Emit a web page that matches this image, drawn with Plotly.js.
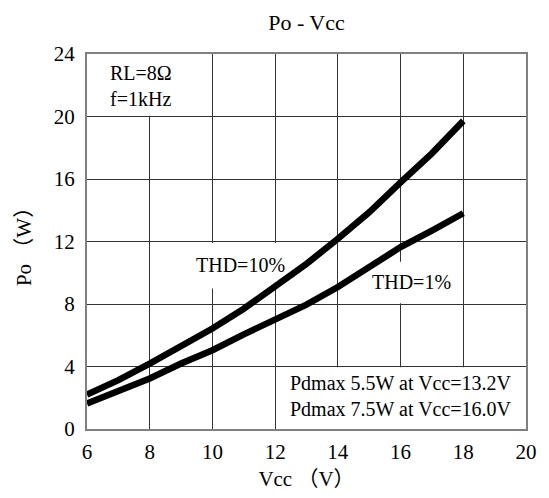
<!DOCTYPE html>
<html>
<head>
<meta charset="utf-8">
<script src="https://cdn.plot.ly/plotly-3.0.1.min.js"></script>
<style>
html,body{margin:0;padding:0;background:#fff;}
#chart svg text{font-family:'Liberation Serif','Noto Sans CJK SC',serif !important;}
</style>
</head>
<body>
<div id="chart" style="width:549px;height:498px;"></div>
<script>
var vcc = [6, 7, 8, 9, 10, 11, 12, 13, 14, 15, 16, 17, 18];
var poThd10 = [2.2, 3.13, 4.19, 5.26, 6.43, 7.7, 9.09, 10.57, 12.17, 13.87, 15.79, 17.64, 19.72];
var poThd1 = [1.64, 2.38, 3.23, 4.19, 5.04, 6.06, 6.96, 7.96, 9.09, 10.36, 11.64, 12.7, 13.81];
var xTicks = [6, 8, 10, 12, 14, 16, 18, 20];
var yTicks = [0, 4, 8, 12, 16, 20, 24];
var seriesNames = ['THD=10%', 'THD=1%'];
var noteLines = ['RL=8Ω', 'f=1kHz'];
var pdLines = ['Pdmax 5.5W at Vcc=13.2V', 'Pdmax 7.5W at Vcc=16.0V'];

var serif = 'Liberation Serif';
var traces = [
  {x: vcc, y: poThd10, name: seriesNames[0], mode: 'lines', line: {color: '#000', width: 6.5}},
  {x: vcc, y: poThd1, name: seriesNames[1], mode: 'lines', line: {color: '#000', width: 6.5}}
];

function whiteBox(x0, x1, y0, y1) {
  return {type: 'rect', xref: 'x', yref: 'y', x0: x0, x1: x1, y0: y0, y1: y1,
          fillcolor: '#fff', line: {width: 0}, layer: 'between'};
}
function note(x, y, text, anchor) {
  return {x: x, y: y, xref: 'x', yref: 'y', text: text, showarrow: false,
          xanchor: anchor, yanchor: 'middle', font: {family: serif, size: 20, color: '#000'}};
}

var layout = {
  width: 549, height: 498,
  margin: {l: 87, r: 23, t: 54, b: 69},
  paper_bgcolor: '#fff', plot_bgcolor: '#fff',
  showlegend: false,
  font: {family: serif, size: 20, color: '#000'},
  title: {text: 'Po - Vcc', font: {family: serif, size: 22, color: '#000'},
          x: 0.5, xref: 'paper', xanchor: 'center', y: 0.956, yref: 'container', yanchor: 'middle'},
  xaxis: {
    range: [6, 20], tickvals: xTicks, ticktext: xTicks.map(String),
    showgrid: true, gridcolor: '#333', gridwidth: 1, zeroline: false,
    showline: true, mirror: true, linecolor: '#808080', linewidth: 2,
    ticks: '', ticklabelstandoff: 3,
    tickfont: {family: serif, size: 21, color: '#000'},
    title: {text: 'Vcc （V）', font: {family: serif, size: 21, color: '#000'}, standoff: 8}
  },
  yaxis: {
    range: [0, 24], tickvals: yTicks, ticktext: yTicks.map(String),
    showgrid: true, gridcolor: '#333', gridwidth: 1, zeroline: false,
    showline: true, mirror: true, linecolor: '#808080', linewidth: 2,
    ticks: '', ticklabelstandoff: 6,
    tickfont: {family: serif, size: 21, color: '#000'},
    title: {text: 'Po （W）', font: {family: serif, size: 21, color: '#000'}, standoff: 16}
  },
  shapes: [
    whiteBox(6, 9.96, 20.05, 24),
    whiteBox(9.3, 12.5, 9.0, 11.9),
    whiteBox(15.0, 17.85, 8.05, 10.7),
    whiteBox(12.04, 20, 0, 3.95)
  ],
  annotations: [
    note(6.67, 22.81, noteLines[0], 'left'),
    note(6.67, 21.15, noteLines[1], 'left'),
    note(10.88, 10.48, seriesNames[0], 'center'),
    note(16.36, 9.39, seriesNames[1], 'center'),
    note(16, 2.94, pdLines[0], 'center'),
    note(16, 1.28, pdLines[1], 'center')
  ]
};

Plotly.newPlot('chart', traces, layout, {displayModeBar: false, staticPlot: true});
</script>
</body>
</html>
